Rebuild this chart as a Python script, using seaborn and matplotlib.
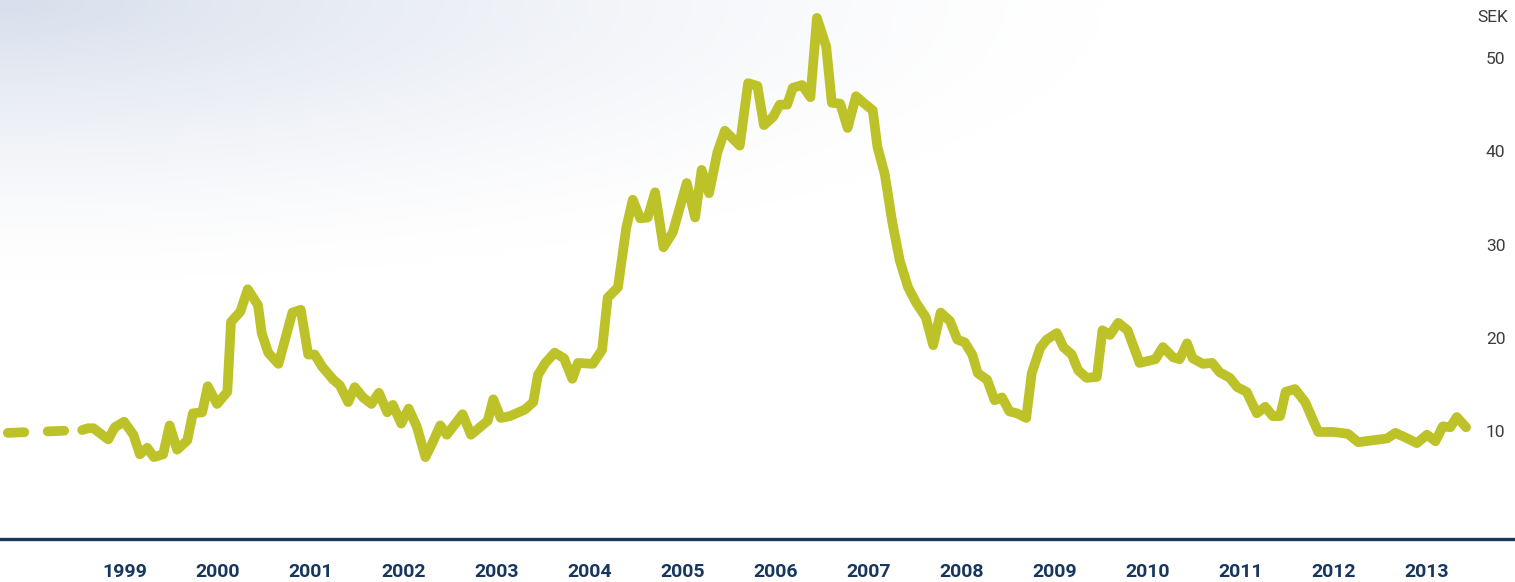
"""
Share price chart (SEK), 1998-2013.
"""

import matplotlib
matplotlib.use("Agg")
import matplotlib.pyplot as plt
import seaborn as sns
import numpy as np
import pandas as pd

# Dashed lead-in (before listing)
lead_years = [1998.24, 1999.04]
lead_price = [9.8, 10.1]

# Share price (fractional year, SEK)
years = [
    1999.04, 1999.10, 1999.16, 1999.32, 1999.39, 1999.49, 1999.59, 1999.66, 1999.74, 1999.81,
    1999.91, 1999.98, 2000.06, 2000.17, 2000.23, 2000.33, 2000.39, 2000.49, 2000.60, 2000.64,
    2000.74, 2000.82, 2000.93, 2000.97, 2001.04, 2001.15, 2001.30, 2001.39, 2001.47, 2001.54,
    2001.62, 2001.74, 2001.81, 2001.90, 2001.97, 2002.06, 2002.15, 2002.23, 2002.32, 2002.38,
    2002.47, 2002.55, 2002.64, 2002.73, 2002.80, 2002.89, 2002.96, 2003.13, 2003.22, 2003.40,
    2003.46, 2003.54, 2003.64, 2003.80, 2003.89, 2003.94, 2004.02, 2004.12, 2004.22, 2004.31,
    2004.37, 2004.53, 2004.63, 2004.69, 2004.80, 2004.89, 2004.96, 2005.04, 2005.12, 2005.20,
    2005.29, 2005.39, 2005.54, 2005.63, 2005.70, 2005.78, 2005.87, 2005.95, 2006.11, 2006.20,
    2006.30, 2006.37, 2006.47, 2006.54, 2006.62, 2006.68, 2006.78, 2006.87, 2006.94, 2007.04,
    2007.10, 2007.19, 2007.27, 2007.36, 2007.44, 2007.54, 2007.59, 2007.67, 2007.75, 2007.83,
    2007.92, 2008.01, 2008.11, 2008.19, 2008.27, 2008.37, 2008.45, 2008.53, 2008.61, 2008.67,
    2008.77, 2008.85, 2008.93, 2009.01, 2009.09, 2009.19, 2009.25, 2009.34, 2009.41, 2009.52,
    2009.59, 2009.68, 2009.75, 2009.84, 2009.95, 2010.01, 2010.09, 2010.18, 2010.28, 2010.41,
    2010.58, 2010.66, 2010.77, 2010.84, 2010.92, 2010.98, 2011.09, 2011.19, 2011.27, 2011.38,
    2011.46, 2011.56, 2011.67, 2011.76, 2011.84, 2011.92, 2011.98, 2012.08, 2012.19, 2012.33,
    2012.49, 2012.65, 2012.76, 2012.91, 2013.07, 2013.16, 2013.29, 2013.39, 2013.50, 2013.59,
    2013.67, 2013.75, 2013.82, 2013.92,
]
price = [
    10.1, 10.3, 10.3, 9.1, 10.4, 11.0, 9.6, 7.5, 8.2, 7.2,
    7.5, 10.6, 8.0, 9.0, 11.9, 12.0, 14.8, 12.9, 14.2, 21.7,
    22.8, 25.2, 23.5, 20.5, 18.4, 17.2, 22.7, 23.0, 18.2, 18.2,
    16.9, 15.5, 14.9, 13.1, 14.7, 13.6, 12.9, 14.1, 12.0, 12.8,
    10.8, 12.4, 10.4, 7.2, 8.6, 10.6, 9.6, 11.8, 9.6, 11.1,
    13.4, 11.4, 11.6, 12.3, 13.1, 16.0, 17.3, 18.4, 17.8, 15.6,
    17.3, 17.2, 18.7, 24.3, 25.4, 31.8, 34.8, 32.8, 32.9, 35.6,
    29.7, 31.3, 36.6, 32.9, 38.0, 35.5, 39.9, 42.2, 40.6, 47.3,
    47.0, 42.8, 43.7, 45.0, 45.0, 46.8, 47.1, 45.8, 54.3, 51.2,
    45.2, 45.1, 42.5, 45.9, 45.2, 44.4, 40.5, 37.5, 32.4, 28.3,
    25.4, 23.7, 22.2, 19.2, 22.7, 21.8, 19.8, 19.5, 18.2, 16.2,
    15.5, 13.3, 13.6, 12.1, 11.9, 11.4, 16.2, 18.9, 19.8, 20.5,
    19.0, 18.2, 16.5, 15.7, 15.8, 20.8, 20.3, 21.6, 20.8, 17.3,
    17.7, 19.0, 17.9, 17.7, 19.4, 17.8, 17.2, 17.3, 16.3, 15.7,
    14.7, 14.2, 11.9, 12.6, 11.6, 11.6, 14.2, 14.5, 13.1, 9.9,
    9.9, 9.7, 8.8, 9.0, 9.2, 9.8, 9.2, 8.7, 9.6, 8.9,
    10.5, 10.4, 11.5, 10.4,
]

year_labels = list(range(1999, 2014))
price_ticks = [10, 20, 30, 40, 50]

line_color = "#bdc228"
navy = "#17375e"
label_gray = "#3c3c3c"

sns.set_style("white")
plt.rcParams['font.family'] = ['Roboto', 'DejaVu Sans']

fig = plt.figure(figsize=(15.15, 5.82), dpi=100)
ax = fig.add_axes([0, 43 / 582, 1, 539 / 582])

# soft blue-grey wash in the top-left corner
gx, gy = np.meshgrid(np.linspace(0, 1515, 300), np.linspace(0, 539, 120))
strength = np.clip(1 - np.sqrt((gx / 1100) ** 2 + (gy / 280) ** 2), 0, 1) ** 1.4
corner = np.array([216, 223, 236]) / 255
img = 1 - strength[..., None] * (1 - corner)
ax.imshow(img, extent=[0, 1, 0, 1], transform=ax.transAxes, aspect='auto',
          zorder=0, interpolation='bilinear')

lead = pd.DataFrame({'year': lead_years, 'price': lead_price})
df = pd.DataFrame({'year': years, 'price': price})

sns.lineplot(data=lead, x='year', y='price', ax=ax, color=line_color, lw=7,
             sort=False, estimator=None, zorder=3,
             linestyle=(0, (1.7, 2.4)), dash_capstyle='round')
sns.lineplot(data=df, x='year', y='price', ax=ax, color=line_color, lw=7,
             sort=False, estimator=None, zorder=3,
             solid_capstyle='round', solid_joinstyle='round')

ax.set_xlim(1998.156, 2014.446)
ax.set_ylim(-1.58, 56.22)

# year labels centred mid-year
ax.set_xticks([y + 0.5 for y in year_labels])
ax.set_xticklabels([str(y) for y in year_labels], fontsize=14, fontweight='bold',
                   color=navy)
ax.tick_params(axis='x', length=0, pad=17)

ax.yaxis.tick_right()
ax.set_yticks(price_ticks)
ax.set_yticklabels([str(v) for v in price_ticks], fontsize=12.5, color=label_gray)
ax.tick_params(axis='y', length=0, pad=-21)

ax.set_xlabel('')
ax.set_ylabel('')
for side in ['top', 'left', 'right']:
    ax.spines[side].set_visible(False)
ax.spines['bottom'].set_color(navy)
ax.spines['bottom'].set_linewidth(2.4)
ax.spines['bottom'].set_zorder(4)

fig.text(1508 / 1515, 1 - 17 / 582, 'SEK', ha='right', va='center',
         fontsize=12.5, color=label_gray)

fig.savefig('out.png', dpi=100)
